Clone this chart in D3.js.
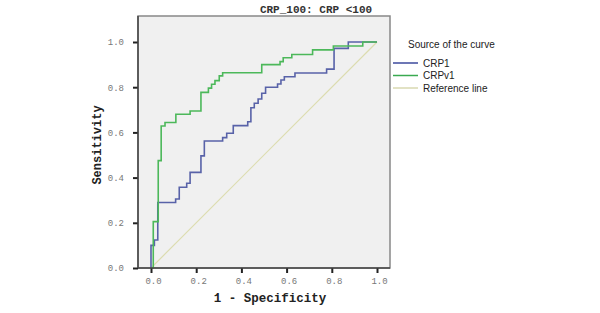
<!DOCTYPE html>
<html>

<head>
	<meta charset="utf-8">
	<script src="https://d3js.org/d3.v7.min.js"></script>
	<style>
		body {
			margin: 0;
			background: #fff;
		}

		.tick text {
			font-family: "Liberation Mono", "Courier New", monospace;
			font-size: 9px;
			fill: #777;
		}

		.tick line {
			stroke: #222;
			stroke-width: 2;
		}

		.legend text {
			font-family: "Liberation Sans", Arial, sans-serif;
			font-size: 10px;
			fill: #222;
		}
	</style>
</head>

<body>
	<svg></svg>
	<script>
		var title = "CRP_100: CRP <100";
		var tickValues = [0, 0.2, 0.4, 0.6, 0.8, 1.0];
		var seriesNames = ["CRP1", "CRPv1", "Reference line"];

		// corners of the ROC curves: x = 1 - specificity, y = sensitivity
		var crp1Fpr = [0, 0, 0.015, 0.03, 0.109, 0.125, 0.158, 0.173, 0.221, 0.236, 0.317, 0.335, 0.364, 0.428, 0.442, 0.457, 0.474, 0.49, 0.507, 0.56, 0.575, 0.59, 0.637, 0.777, 0.81, 0.873, 1.0];
		var crp1Tpr = [0, 0.10, 0.124, 0.29, 0.305, 0.357, 0.375, 0.423, 0.496, 0.562, 0.577, 0.596, 0.63, 0.647, 0.709, 0.729, 0.748, 0.773, 0.80, 0.814, 0.832, 0.846, 0.863, 0.88, 0.972, 1.0, 1.0];
		var crpv1Fpr = [0, 0.01, 0.032, 0.045, 0.062, 0.11, 0.173, 0.221, 0.254, 0.268, 0.283, 0.302, 0.317, 0.49, 0.571, 0.585, 0.623, 0.715, 0.807, 0.937, 1.0];
		var crpv1Tpr = [0, 0.205, 0.475, 0.628, 0.644, 0.68, 0.695, 0.777, 0.796, 0.813, 0.829, 0.85, 0.864, 0.90, 0.913, 0.93, 0.945, 0.965, 0.982, 1.0, 1.0];
		var refX = [0, 1];
		var refY = [0, 1];

		var width = 600;
		var height = 313;
		var frame = { "left": 138, "right": 390, "top": 16, "bottom": 268 };
		var colors = ["#5862a8", "#4cb85a", "#dcdcb0"];
		var legendColors = ["#3c4a9c", "#3aaa50", "#d8d8b0"];

		var svg = d3.select('svg')
			.attr("width", width)
			.attr("height", height);

		var x = d3.scaleLinear()
			.domain([0, 1])
			.range([151, 377]);
		var y = d3.scaleLinear()
			.domain([0, 1])
			.range([268, 42]);

		svg.append("rect")
			.attr("x", frame.left)
			.attr("y", frame.top)
			.attr("width", frame.right - frame.left)
			.attr("height", frame.bottom - frame.top)
			.attr("fill", "#f0f0f0")
			.attr("stroke", "#888")
			.attr("stroke-width", 1.5);

		var line = d3.line()
			.x(d => x(d[0]))
			.y(d => y(d[1]));

		var series = [
			d3.zip(crp1Fpr, crp1Tpr),
			d3.zip(crpv1Fpr, crpv1Tpr),
			d3.zip(refX, refY)
		];

		// reference line first, then the two curves
		[2, 0, 1].forEach(function (i) {
			svg.append("path")
				.datum(series[i])
				.attr("fill", "none")
				.attr("stroke", colors[i])
				.attr("stroke-width", i == 2 ? 1.2 : 1.6)
				.attr("d", i == 2 ? line : line.curve(d3.curveStepAfter));
			line.curve(d3.curveLinear);
		});

		svg.append("g")
			.attr("transform", "translate(" + frame.left + ",0)")
			.call(d3.axisLeft(y).tickValues(tickValues).tickFormat(d3.format(".1f")).tickSize(5).tickPadding(9))
			.call(g => g.select(".domain").remove());

		svg.append("g")
			.attr("transform", "translate(0," + frame.bottom + ")")
			.call(d3.axisBottom(x).tickValues(tickValues).tickFormat(d3.format(".1f")).tickSize(5).tickPadding(5))
			.call(g => g.select(".domain").remove())
			.call(g => g.selectAll(".tick text").attr("x", 2));

		// axis lines
		svg.append("line")
			.attr("x1", frame.left).attr("x2", frame.left)
			.attr("y1", frame.top).attr("y2", frame.bottom)
			.attr("stroke", "#444").attr("stroke-width", 1.5);
		svg.append("line")
			.attr("x1", frame.left).attr("x2", frame.right)
			.attr("y1", frame.bottom).attr("y2", frame.bottom)
			.attr("stroke", "#444").attr("stroke-width", 1.5);

		svg.append("text")
			.attr("x", 316)
			.attr("y", 13)
			.attr("text-anchor", "middle")
			.attr("font-family", "Liberation Mono, Courier New, monospace")
			.attr("font-size", "11px")
			.attr("font-weight", "bold")
			.attr("fill", "#333")
			.text(title);

		svg.append("text")
			.attr("x", 270)
			.attr("y", 302)
			.attr("text-anchor", "middle")
			.attr("font-family", "Liberation Mono, Courier New, monospace")
			.attr("font-size", "12.5px")
			.attr("font-weight", "bold")
			.attr("fill", "#222")
			.text("1 - Specificity");

		svg.append("text")
			.attr("transform", "translate(101,145) rotate(-90)")
			.attr("text-anchor", "middle")
			.attr("font-family", "Liberation Mono, Courier New, monospace")
			.attr("font-size", "12px")
			.attr("font-weight", "bold")
			.attr("fill", "#222")
			.text("Sensitivity");

		var legend = svg.append("g")
			.attr("class", "legend");

		legend.append("text")
			.attr("x", 408)
			.attr("y", 48)
			.text("Source of the curve");

		var items = legend.selectAll(".item")
			.data(seriesNames)
			.enter()
			.append("g")
			.attr("class", "item")
			.attr("transform", (d, i) => "translate(393," + (63 + i * 12.5) + ")");

		items.append("line")
			.attr("x1", 0)
			.attr("x2", 25)
			.attr("stroke", (d, i) => legendColors[i])
			.attr("stroke-width", 1.5);

		items.append("text")
			.attr("x", 30)
			.attr("y", 3.5)
			.text(d => d);
	</script>
</body>

</html>
